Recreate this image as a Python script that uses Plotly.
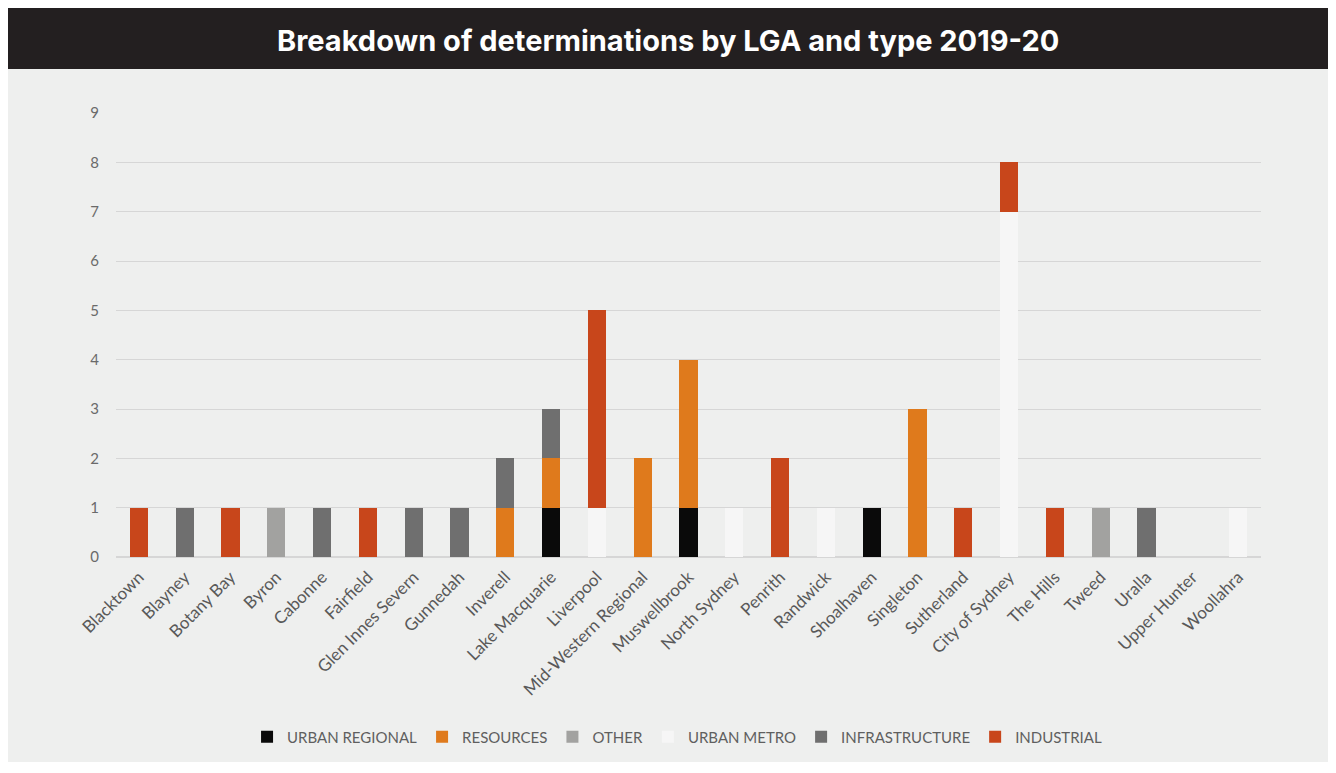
import plotly.graph_objects as go

categories = ["Blacktown", "Blayney", "Botany Bay", "Byron", "Cabonne", "Fairfield",
              "Glen Innes Severn", "Gunnedah", "Inverell", "Lake Macquarie", "Liverpool",
              "Mid-Western Regional", "Muswellbrook", "North Sydney", "Penrith", "Randwick",
              "Shoalhaven", "Singleton", "Sutherland", "City of Sydney", "The Hills", "Tweed",
              "Uralla", "Upper Hunter", "Woollahra"]

urban_regional = [0, 0, 0, 0, 0, 0, 0, 0, 0, 1, 0, 0, 1, 0, 0, 0, 1, 0, 0, 0, 0, 0, 0, 0, 0]
resources      = [0, 0, 0, 0, 0, 0, 0, 0, 1, 1, 0, 2, 3, 0, 0, 0, 0, 3, 0, 0, 0, 0, 0, 0, 0]
other          = [0, 0, 0, 1, 0, 0, 0, 0, 0, 0, 0, 0, 0, 0, 0, 0, 0, 0, 0, 0, 0, 1, 0, 0, 0]
urban_metro    = [0, 0, 0, 0, 0, 0, 0, 0, 0, 0, 1, 0, 0, 1, 0, 1, 0, 0, 0, 7, 0, 0, 0, 0, 1]
infrastructure = [0, 1, 0, 0, 1, 0, 1, 1, 1, 1, 0, 0, 0, 0, 0, 0, 0, 0, 0, 0, 0, 0, 1, 0, 0]
industrial     = [1, 0, 1, 0, 0, 1, 0, 0, 0, 0, 4, 0, 0, 0, 2, 0, 0, 0, 1, 1, 1, 0, 0, 0, 0]

series = [
    ("URBAN REGIONAL", urban_regional, "#0a0a0a"),
    ("RESOURCES", resources, "#df7a1c"),
    ("OTHER", other, "#a2a2a0"),
    ("URBAN METRO", urban_metro, "#f6f6f6"),
    ("INFRASTRUCTURE", infrastructure, "#6f6f6f"),
    ("INDUSTRIAL", industrial, "#c8461b"),
]

fig = go.Figure()
for name, vals, color in series:
    fig.add_trace(go.Bar(name=name, x=categories, y=vals, marker_color=color,
                         marker_line_width=0))

# page has an 8px body margin; figure coords = page coords - 8
OFF = 8
W, H = 1328, 765
L, R, T, B = 116 - OFF, 75, 113 - OFF, 216
pw, ph = W - L - R, H - T - B

def px(x):
    return (x - OFF - L) / pw

def py(y):
    return (H - B - (y - OFF)) / ph

font_axis = "Lato, Open Sans, sans-serif"

fig.update_layout(
    width=W, height=H,
    margin=dict(l=L, r=R, t=T, b=B),
    barmode="stack",
    bargap=0.6,
    paper_bgcolor="white",
    plot_bgcolor="rgba(0,0,0,0)",
    showlegend=True,
    legend=dict(orientation="h", x=0.49, xanchor="center", y=py(737), yanchor="middle",
                font=dict(family=font_axis, size=15, color="#5f5f5f"),
                bgcolor="rgba(0,0,0,0)", traceorder="normal", itemwidth=30),
    xaxis=dict(tickangle=-45, tickfont=dict(family=font_axis, size=17, color="#595959"),
               showgrid=False, showline=False, ticks="", ticklabelstandoff=6),
    yaxis=dict(range=[0, 9], dtick=1, tickfont=dict(family=font_axis, size=15, color="#6a6a6a"),
               gridcolor="#d6d6d6", gridwidth=1, zeroline=True, zerolinecolor="#d6d6d6",
               showline=False, ticks="", ticklabelstandoff=16),
    shapes=[
        dict(type="rect", xref="paper", yref="paper", x0=px(7), x1=px(1336), y0=py(762), y1=py(69),
             fillcolor="#eeefee", line_width=0, layer="below"),
        dict(type="rect", xref="paper", yref="paper", x0=px(7), x1=px(1336), y0=py(69), y1=py(7),
             fillcolor="#231f20", line_width=0, layer="below"),
    ],
    annotations=[
        dict(text="<b>Breakdown of determinations by LGA and type 2019-20</b>", xref="paper", yref="paper",
             x=px(668), y=py(40), xanchor="center", yanchor="middle", showarrow=False,
             font=dict(family="Inter, Open Sans, sans-serif", size=29, color="white")),
    ],
)

fig.write_html("out.html")
